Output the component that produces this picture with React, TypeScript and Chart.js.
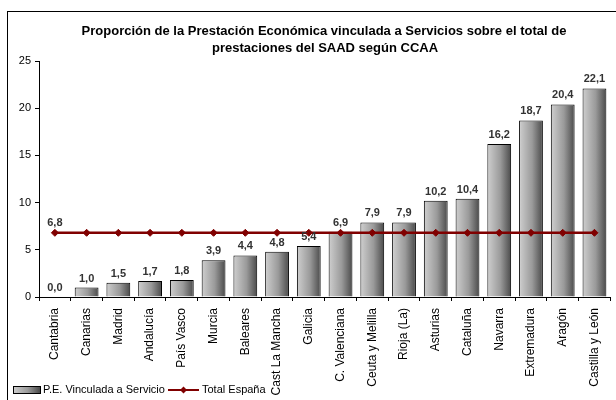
import React, { useEffect, useRef } from "react";
import { Chart, registerables } from "chart.js";

Chart.register(...registerables);

const categories = [
  "Cantabria", "Canarias", "Madrid", "Andalucía", "País Vasco", "Murcia",
  "Baleares", "Cast La Mancha", "Galicia", "C. Valenciana", "Ceuta y Melilla",
  "Rioja (La)", "Asturias", "Cataluña", "Navarra", "Extremadura", "Aragón",
  "Castilla y León",
];
const peValues = [0.0, 1.0, 1.5, 1.7, 1.8, 3.9, 4.4, 4.8, 5.4, 6.9, 7.9, 7.9, 10.2, 10.4, 16.2, 18.7, 20.4, 22.1];
const totalEspana = [6.8, 6.8, 6.8, 6.8, 6.8, 6.8, 6.8, 6.8, 6.8, 6.8, 6.8, 6.8, 6.8, 6.8, 6.8, 6.8, 6.8, 6.8];
const titleLines = [
  "Proporción de la Prestación Económica vinculada a Servicios sobre el total de",
  "prestaciones del SAAD según CCAA",
];
const seriesNames = ["P.E. Vinculada a Servicio", "Total España"];
const yTicks = [0, 5, 10, 15, 20, 25];

const FONT = "'Liberation Sans', Arial, sans-serif";
const LINE_COLOR = "#800000";

const fmt = (v: number) => v.toFixed(1).replace(".", ",");

function barGradient(ctx: CanvasRenderingContext2D, x0: number, x1: number) {
  const g = ctx.createLinearGradient(x0, 0, x1, 0);
  g.addColorStop(0, "#cfcfcf");
  g.addColorStop(0.55, "#9a9a9a");
  g.addColorStop(1, "#4a4a4a");
  return g;
}

const decorPlugin = {
  id: "decor",
  beforeDraw(chart: any) {
    const ctx = chart.ctx;
    ctx.save();
    ctx.fillStyle = "#ffffff";
    ctx.fillRect(0, 0, chart.width, chart.height);
    ctx.restore();
  },
  afterDraw(chart: any) {
    const ctx: CanvasRenderingContext2D = chart.ctx;
    ctx.save();
    // frame
    ctx.strokeStyle = "#000";
    ctx.lineWidth = 1;
    ctx.strokeRect(7.5, 11.5, 800, 600);
    // title
    ctx.fillStyle = "#000";
    ctx.font = `bold 13px ${FONT}`;
    ctx.textAlign = "center";
    ctx.textBaseline = "middle";
    ctx.fillText(titleLines[0], 324, 31);
    ctx.fillText(titleLines[1], 325, 48);
    // data labels
    ctx.font = `bold 11px ${FONT}`;
    ctx.fillStyle = "#333333";
    ctx.textBaseline = "alphabetic";
    const barMeta = chart.getDatasetMeta(0);
    barMeta.data.forEach((el: any, i: number) => {
      ctx.fillText(fmt(peValues[i]), el.x, el.y - 6);
    });
    const lineMeta = chart.getDatasetMeta(1);
    const p0 = lineMeta.data[0];
    ctx.fillText(fmt(totalEspana[0]), p0.x, p0.y - 7);
    // legend
    const ly = 390;
    ctx.fillStyle = barGradient(ctx, 13, 40);
    ctx.fillRect(13, ly - 3, 27, 7);
    ctx.strokeStyle = "#000";
    ctx.strokeRect(13.5, ly - 3.5, 27, 7);
    ctx.fillStyle = "#000";
    ctx.font = `11px ${FONT}`;
    ctx.textAlign = "left";
    ctx.textBaseline = "middle";
    ctx.fillText(seriesNames[0], 43, ly);
    ctx.strokeStyle = LINE_COLOR;
    ctx.lineWidth = 2;
    ctx.beginPath();
    ctx.moveTo(168, ly);
    ctx.lineTo(199, ly);
    ctx.stroke();
    ctx.fillStyle = LINE_COLOR;
    ctx.beginPath();
    ctx.moveTo(183.5, ly - 3.5);
    ctx.lineTo(187, ly);
    ctx.lineTo(183.5, ly + 3.5);
    ctx.lineTo(180, ly);
    ctx.closePath();
    ctx.fill();
    ctx.fillStyle = "#000";
    ctx.fillText(seriesNames[1], 202, ly);
    ctx.restore();
  },
};

export default function App() {
  const ref = useRef<HTMLCanvasElement | null>(null);
  useEffect(() => {
    if (!ref.current) return;
    const chart = new Chart(ref.current, {
      type: "bar",
      data: {
        labels: categories,
        datasets: [
          {
            type: "bar",
            label: seriesNames[0],
            data: peValues,
            order: 1,
            barPercentage: 0.75,
            categoryPercentage: 1,
            borderColor: "#000",
            borderWidth: 1,
            backgroundColor: (c: any) => {
              const ch = c.chart;
              const area = ch.chartArea;
              const xs = ch.scales.x;
              if (!area || !xs || c.dataIndex === undefined) return "#999";
              const cx = xs.getPixelForValue(c.dataIndex);
              const w = (area.right - area.left) / categories.length * 0.75;
              return barGradient(ch.ctx, cx - w / 2, cx + w / 2);
            },
          } as any,
          {
            type: "line",
            label: seriesNames[1],
            data: totalEspana,
            order: 0,
            borderColor: LINE_COLOR,
            borderWidth: 2.5,
            pointStyle: "rectRot",
            pointRadius: 3.5,
            pointBackgroundColor: LINE_COLOR,
            pointBorderColor: LINE_COLOR,
            pointBorderWidth: 1,
          } as any,
        ],
      },
      options: {
        animation: false,
        responsive: false,
        devicePixelRatio: 1,
        layout: { padding: { left: 0, right: 3, top: 61, bottom: 0 } },
        plugins: { legend: { display: false }, title: { display: false }, tooltip: { enabled: false } },
        scales: {
          x: {
            offset: true,
            grid: { drawOnChartArea: false, drawTicks: true, tickLength: 4, color: "#000", offset: true },
            border: { color: "#000", width: 1 },
            ticks: {
              minRotation: 90,
              maxRotation: 90,
              autoSkip: false,
              padding: 7,
              color: "#000",
              font: { family: FONT, size: 12 },
            },
            afterFit: (s: any) => { s.height = 103; },
          },
          y: {
            min: 0,
            max: 25,
            afterBuildTicks: (s: any) => { s.ticks = yTicks.map((v) => ({ value: v })); },
            grid: { drawOnChartArea: false, drawTicks: true, tickLength: 4, color: "#000" },
            border: { color: "#000", width: 1 },
            ticks: { padding: 4, color: "#000", font: { family: FONT, size: 11 } },
            afterFit: (s: any) => { s.width = 39; },
          },
        },
      },
      plugins: [decorPlugin],
    } as any);
    return () => chart.destroy();
  }, []);
  return (
    <div style={{ position: "fixed", left: 0, top: 0, width: 616, height: 400 }}>
      <canvas ref={ref} width={616} height={400} style={{ width: 616, height: 400, display: "block" }} />
    </div>
  );
}
